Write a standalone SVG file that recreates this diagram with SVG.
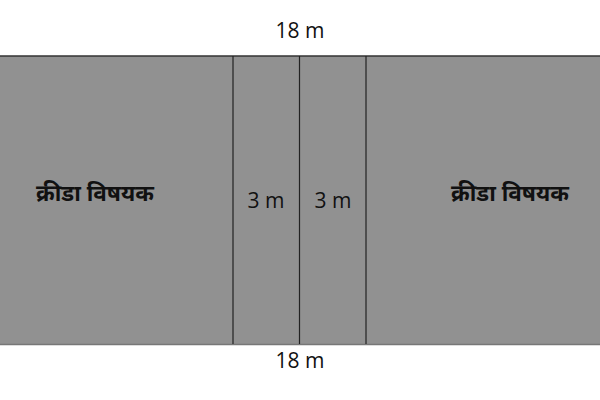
<svg xmlns="http://www.w3.org/2000/svg" width="600" height="400" viewBox="0 0 600 400">
<style>
.lbl{font-family:"Open Sans","Noto Sans",sans-serif;font-size:21px;fill:#111;text-anchor:middle}
.dev{font-family:"Noto Sans","Noto Sans Devanagari",sans-serif;font-size:22.5px;font-weight:bold;fill:#111;text-anchor:middle}
.div{stroke:#222;stroke-width:1.2}
</style>
<rect width="600" height="400" fill="#fff"/>
<g id="field">
<rect x="0" y="56" width="600" height="289" fill="#919191"/>
<line x1="0" y1="56" x2="600" y2="56" stroke="#333" stroke-width="1.5"/>
<line x1="0" y1="344.5" x2="600" y2="344.5" stroke="#777" stroke-width="1.5"/>
</g>
<g id="connectors">
<line class="div" x1="233" y1="56" x2="233" y2="344"/>
<line class="div" x1="299.5" y1="56" x2="299.5" y2="344"/>
<line class="div" x1="366" y1="56" x2="366" y2="344"/>
</g>
<g id="top-label"><text class="lbl" x="300" y="38">18 m</text></g>
<g id="bottom-label"><text class="lbl" x="300" y="368">18 m</text></g>
<g id="left-zone"><text class="dev" x="95" y="201">क्रीडा विषयक</text></g>
<g id="right-zone"><text class="dev" x="510" y="201">क्रीडा विषयक</text></g>
<g id="mid-left"><text class="lbl" x="266" y="208">3 m</text></g>
<g id="mid-right"><text class="lbl" x="333" y="208">3 m</text></g>
</svg>
